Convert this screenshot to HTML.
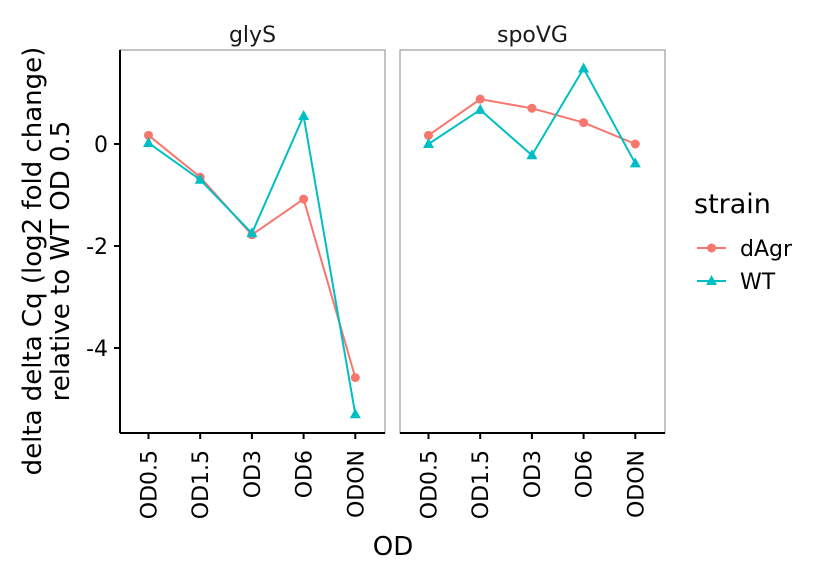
<!DOCTYPE html>
<html><head><meta charset="utf-8"><style>body{margin:0;background:#fff}svg{display:block;font-family:"DejaVu Sans","Liberation Sans",sans-serif}</style></head>
<body>
<svg id="chart" width="816" height="576"></svg>
<script>
const categories=["OD0.5","OD1.5","OD3","OD6","ODON"];
const panels=["glyS","spoVG"];
const glySdAgr=[0.17,-0.65,-1.78,-1.08,-4.58];
const glySWT=[0.02,-0.7,-1.75,0.55,-5.3];
const spoVGdAgr=[0.17,0.88,0.7,0.42,0.0];
const spoVGWT=[0.0,0.67,-0.22,1.48,-0.38];
const yTicks=[0,-2,-4];
const NS="http://www.w3.org/2000/svg";
const svgEl=document.getElementById('chart');
function mk(t,a,p){const e=document.createElementNS(NS,t);for(const k in a)e.setAttribute(k,a[k]);(p||svgEl).appendChild(e);return e;}
const yS=v=>144-v*51;
const panelX=[120,400],pw=265,topY=50,botY=433;
const xS=(p,i)=>panelX[p]+28.5+i*51.7;
const series=[[glySdAgr,glySWT],[spoVGdAgr,spoVGWT]];
const colors=["#F8766D","#00BFC4"];
panels.forEach((name,p)=>{
  let r=mk('rect',{x:panelX[p],y:topY,width:pw,height:botY-topY,fill:'none',stroke:'#888','stroke-width':1});
  
  
  let t=mk('text',{x:panelX[p]+pw/2,y:42,'text-anchor':'middle','font-size':22,fill:'#1a1a1a'});t.textContent=name;
  
  
  categories.forEach((c,i)=>{
    mk('line',{x1:xS(p,i),x2:xS(p,i),y1:botY,y2:botY+6,stroke:'#000','stroke-width':2});
    let l=mk('text',{transform:`translate(${xS(p,i)+8},${botY+17}) rotate(-90)`,'text-anchor':'end','font-size':22,fill:'#000'});l.textContent=c;
    
    
  });
  series[p].forEach((vals,s)=>{
    const pts=vals.map((v,i)=>xS(p,i)+','+yS(v)).join(' ');
    let pl=mk('polyline',{points:pts,fill:'none',stroke:colors[s],'stroke-width':2});
    
    
    vals.forEach((v,i)=>{
      let m;
      const cx=xS(p,i),cy=yS(v);
      if(s==0)m=mk('circle',{cx:cx,cy:cy,r:4.5,fill:colors[s]});
      else m=mk('polygon',{points:`${cx},${cy-6} ${cx-5.5},${cy+4} ${cx+5.5},${cy+4}`,fill:colors[s]});
      
      
    });
  });
  mk('line',{x1:panelX[p],x2:panelX[p]+pw,y1:botY,y2:botY,stroke:'#000','stroke-width':2});
});
mk('line',{x1:120,x2:120,y1:topY,y2:botY,stroke:'#000','stroke-width':2});
yTicks.forEach(v=>{
  mk('line',{x1:114,x2:120,y1:yS(v),y2:yS(v),stroke:'#000','stroke-width':2});
  let t=mk('text',{x:108,y:yS(v)+8,'text-anchor':'end','font-size':22,fill:'#000'});t.textContent=v<0?'-'+Math.abs(v):String(v);
  
  
});
let yt=mk('text',{transform:'translate(41,261) rotate(-90)','text-anchor':'middle','font-size':26,fill:'#000'});
const ts1=mk('tspan',{x:0,dy:0},yt);ts1.textContent='delta delta Cq (log2 fold change)';
const ts2=mk('tspan',{x:0,dy:28},yt);ts2.textContent='relative to WT OD 0.5';


let xt=mk('text',{x:393,y:555,'text-anchor':'middle','font-size':26,fill:'#000'});xt.textContent='OD';


let lt=mk('text',{x:694,y:213,'font-size':27,fill:'#000'});lt.textContent='strain';


["dAgr","WT"].forEach((n,s)=>{
  const cy=248+s*33;
  mk('line',{x1:697,x2:726,y1:cy,y2:cy,stroke:colors[s],'stroke-width':2});
  if(s==0)mk('circle',{cx:711.5,cy:cy,r:4.5,fill:colors[s]});
  else mk('polygon',{points:`711.5,${cy-6} 706,${cy+4} 717,${cy+4}`,fill:colors[s]});
  let t=mk('text',{x:740,y:cy+8,'font-size':22,fill:'#000'});t.textContent=n;
  
  
});
</script>
</body></html>
